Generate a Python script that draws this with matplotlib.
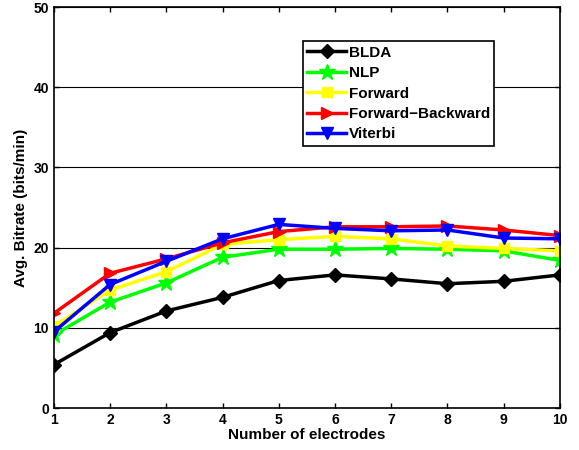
import matplotlib
matplotlib.use('Agg')
import matplotlib.pyplot as plt

plt.rcParams['font.family'] = ['Liberation Sans', 'DejaVu Sans']
plt.rcParams['font.weight'] = 'bold'

# Data
electrodes = [1, 2, 3, 4, 5, 6, 7, 8, 9, 10]
blda = [5.4, 9.4, 12.1, 13.8, 15.9, 16.6, 16.1, 15.5, 15.8, 16.6]
nlp = [9.1, 13.2, 15.6, 18.8, 19.8, 19.8, 19.9, 19.8, 19.6, 18.4]
forward = [10.2, 14.7, 17.0, 20.4, 21.0, 21.4, 21.1, 20.2, 19.9, 19.6]
fwd_bwd = [11.8, 16.8, 18.6, 20.6, 22.0, 22.6, 22.6, 22.7, 22.2, 21.5]
viterbi = [9.5, 15.4, 18.3, 21.1, 22.9, 22.4, 22.1, 22.2, 21.2, 21.1]

fig = plt.figure(figsize=(5.79, 4.5), dpi=100)
ax = fig.add_axes([0.093, 0.0933, 0.874, 0.891])

ax.plot(electrodes, blda, color='black', marker='D', markersize=7, lw=2.5, label='BLDA')
ax.plot(electrodes, nlp, color='#00ff00', marker='*', markersize=12, lw=2.5, label='NLP')
ax.plot(electrodes, forward, color='#ffff00', marker='s', markersize=7, lw=2.5, label='Forward')
ax.plot(electrodes, fwd_bwd, color='red', marker='>', markersize=8, lw=2.5, label='Forward\u2212Backward')
ax.plot(electrodes, viterbi, color='blue', marker='v', markersize=8, lw=2.5, label='Viterbi')

ax.set_xlim(1, 10)
ax.set_ylim(0, 50)
ax.set_xticks(electrodes)
ax.set_yticks([0, 10, 20, 30, 40, 50])
ax.yaxis.grid(True, color='black', lw=0.8)
ax.tick_params(direction='in', top=True, right=True, labelsize=10, width=1)
for s in ax.spines.values():
    s.set_linewidth(1.2)
ax.set_xlabel('Number of electrodes', fontsize=11, fontweight='bold', labelpad=1)
ax.set_ylabel('Avg. Bitrate (bits/min)', fontsize=11, fontweight='bold')

leg = ax.legend(loc='upper left', bbox_to_anchor=(0.492, 0.915), fancybox=False,
                framealpha=1, edgecolor='black', fontsize=11, handlelength=2.5,
                borderpad=0.3, labelspacing=0.42, handletextpad=0.2, borderaxespad=0)
leg.get_frame().set_linewidth(1.2)

fig.savefig('out.png', dpi=100)
